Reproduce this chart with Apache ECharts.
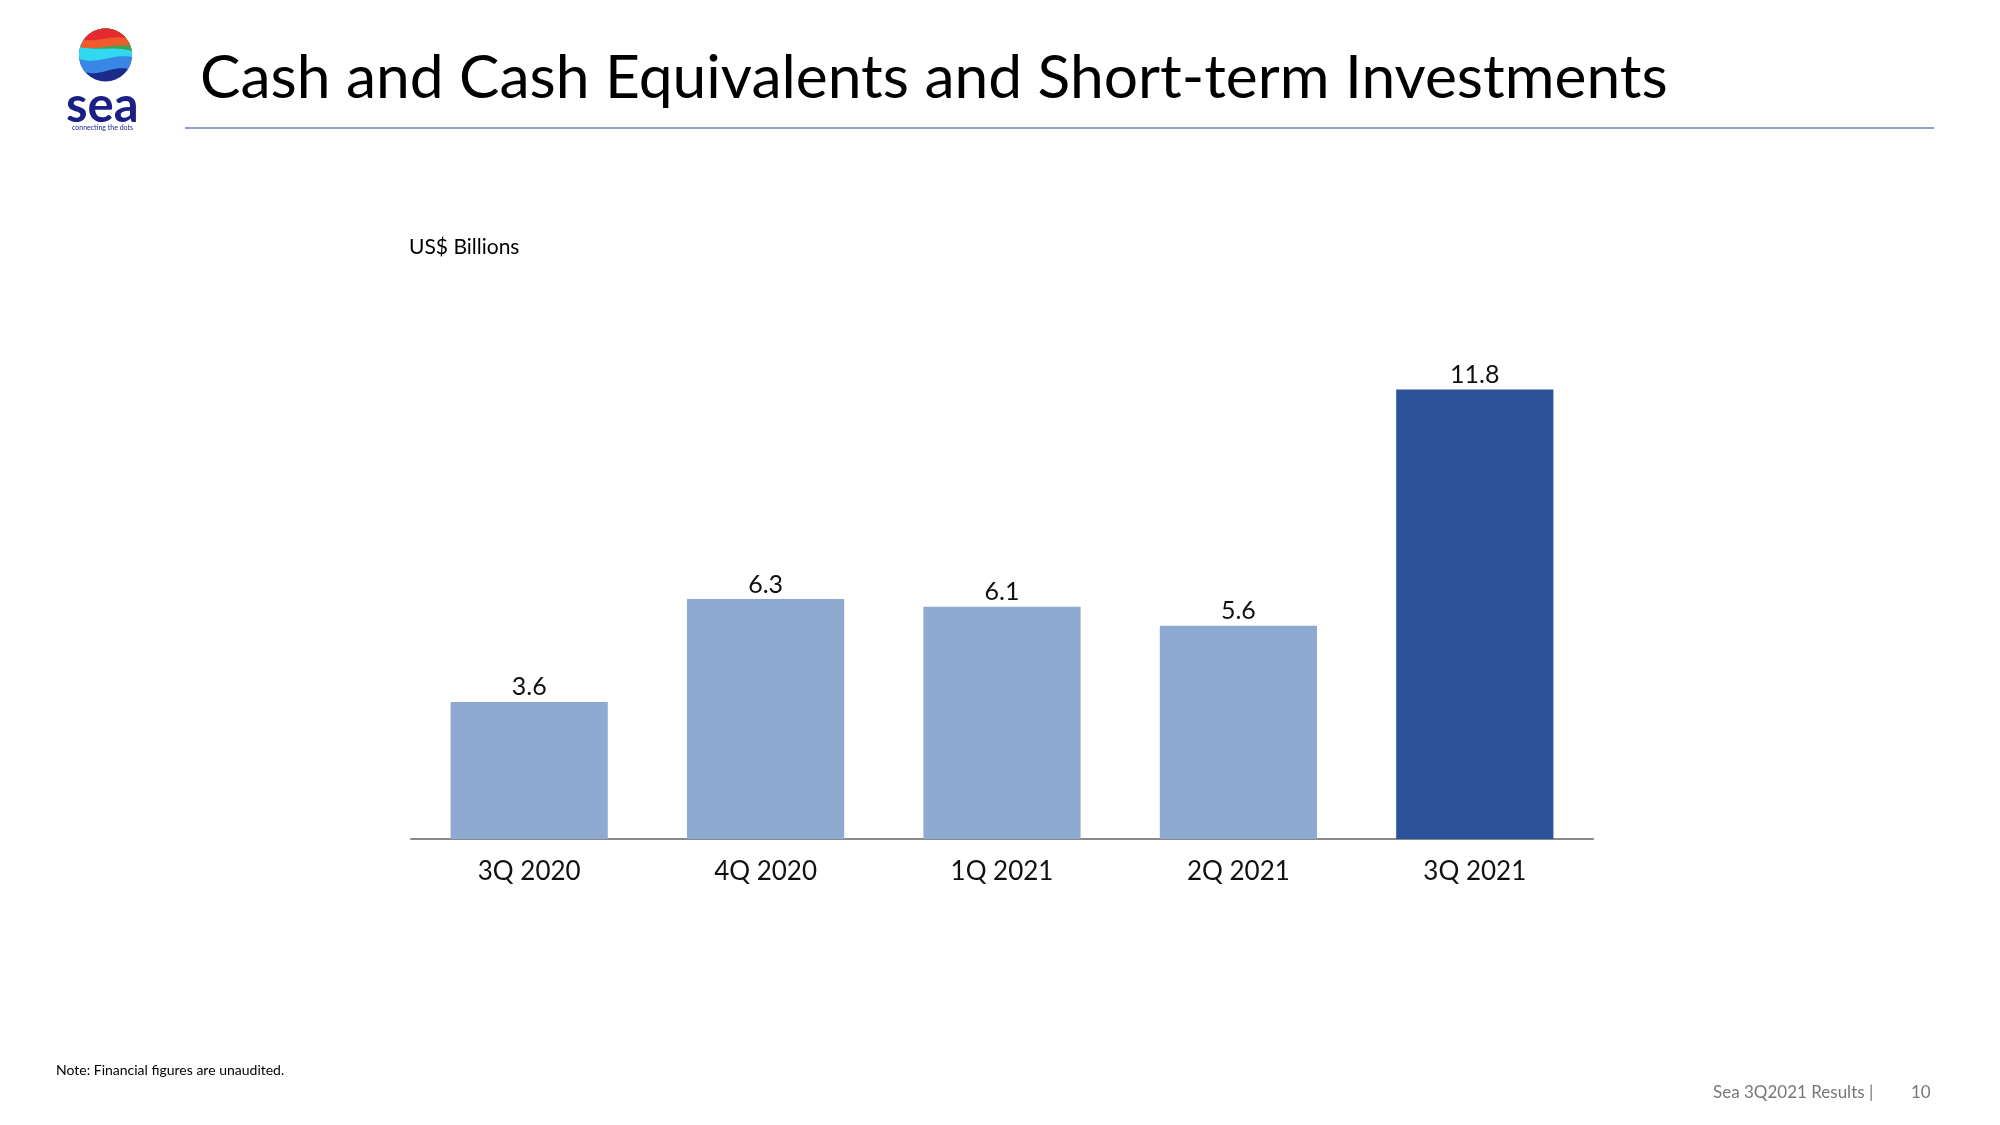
<!DOCTYPE html>
<html>
<head>
<meta charset="utf-8">
<script src="https://cdn.jsdelivr.net/npm/echarts@6/dist/echarts.min.js"></script>
<style>
html,body{margin:0;padding:0;background:#fff;}
#chart{width:2000px;height:1125px;}
</style>
</head>
<body>
<div id="chart"></div>
<script>
const categories = ['3Q 2020', '4Q 2020', '1Q 2021', '2Q 2021', '3Q 2021'];
const values = [3.6, 6.3, 6.1, 5.6, 11.8];
const highlightIndex = 4;
const titleText = 'Cash and Cash Equivalents and Short-term Investments';

const FONT = 'Lato';
const chart = echarts.init(document.getElementById('chart'), null, {renderer: 'canvas'});

// fit title font size to the reference's title width
const mctx = document.createElement('canvas').getContext('2d');
mctx.font = '100px ' + FONT;
const titleSize = Math.min(66, 100 * 1468 / mctx.measureText(titleText).width);

const cx = 105.5, cy = 55, r = 26.5;
function band(dl, dr, c1, c2) {
  const aL = Math.atan2(dl, -Math.sqrt(r * r - dl * dl));
  const aR = Math.atan2(dr, Math.sqrt(r * r - dr * dr));
  let a0 = aL < 0 ? aL + 2 * Math.PI : aL;
  let a1 = aR;
  if (a1 < a0) a1 += 2 * Math.PI;
  const pts = [];
  const N = 40;
  for (let i = 0; i <= N; i++) {
    const a = a0 + (a1 - a0) * i / N;
    pts.push([cx + r * Math.cos(a), cy + r * Math.sin(a)]);
  }
  const xl = pts[0][0], xr = pts[N][0];
  const w = xr - xl;
  const p0 = [xr, cy + dr], p1 = [xr - w * 0.33, cy + c2], p2 = [xl + w * 0.33, cy + c1], p3 = [xl, cy + dl];
  for (let i = 1; i < N; i++) {
    const t = i / N, u = 1 - t;
    pts.push([
      u*u*u*p0[0] + 3*u*u*t*p1[0] + 3*u*t*t*p2[0] + t*t*t*p3[0],
      u*u*u*p0[1] + 3*u*u*t*p1[1] + 3*u*t*t*p2[1] + t*t*t*p3[1]
    ]);
  }
  return pts;
}

const option = {
  backgroundColor: '#ffffff',
  animation: false,
  grid: {left: 411, right: 407, top: 382, bottom: 286, containLabel: false},
  xAxis: {
    type: 'category',
    data: categories,
    axisLine: {lineStyle: {color: '#8a8a8a', width: 2}},
    axisTick: {show: false},
    axisLabel: {color: '#111', fontSize: 26, fontFamily: FONT, margin: 20}
  },
  yAxis: {
    type: 'value', min: 0, max: 12, interval: 2,
    show: false, splitLine: {show: false}
  },
  series: [{
    type: 'bar',
    data: values.map((v, i) => ({value: v, itemStyle: {color: i === highlightIndex ? '#2c5399' : '#8eaad0'}})),
    barCategoryGap: '33.5%',
    label: {show: true, position: 'top', distance: 2, color: '#111', fontSize: 25, fontFamily: FONT,
      formatter: p => p.value.toFixed(1)}
  }],
  graphic: [
    {type: 'circle', shape: {cx: cx, cy: cy, r: r}, style: {fill: '#1c2a8a'}},
    {type: 'polygon', shape: {points: band(17, 14, 22, 10)}, style: {fill: '#3a86e6'}},
    {type: 'polygon', shape: {points: band(4, 2, 10, -2)}, style: {fill: '#30d8f0'}},
    {type: 'polygon', shape: {points: band(-8, -4, -4, -9)}, style: {fill: '#3aa655'}},
    {type: 'polygon', shape: {points: band(-8, -9, -4, -12)}, style: {fill: '#f15a2a'}},
    {type: 'polygon', shape: {points: band(-15, -17, -13, -20)}, style: {fill: '#e52a2f'}},
    {type: 'text', left: 66, top: 82, style: {text: 'sea', font: 'bold 49px ' + FONT, fill: '#1b1f86'}},
    {type: 'text', left: 72, top: 124, style: {text: 'connecting the dots', font: '7px ' + FONT, fill: '#1b1f86'}},
    {type: 'text', left: 200, top: 48, style: {text: titleText, font: titleSize + 'px ' + FONT, fill: '#000', verticalAlign: 'middle'}},
    {type: 'line', shape: {x1: 185, y1: 128, x2: 1934, y2: 128}, style: {stroke: '#8ea2c4', lineWidth: 2}},
    {type: 'text', left: 409, top: 237, style: {text: 'US$ Billions', font: '21px ' + FONT, fill: '#000'}},
    {type: 'text', left: 56, top: 1063, style: {text: 'Note: Financial figures are unaudited.', font: '14px ' + FONT, fill: '#000'}},
    {type: 'text', left: 1713, top: 1084, style: {text: 'Sea 3Q2021 Results |', font: '17px ' + FONT, fill: '#777'}},
    {type: 'text', left: 1911, top: 1084, style: {text: '10', font: '17px ' + FONT, fill: '#777'}}
  ]
};
chart.setOption(option);
</script>
</body>
</html>
